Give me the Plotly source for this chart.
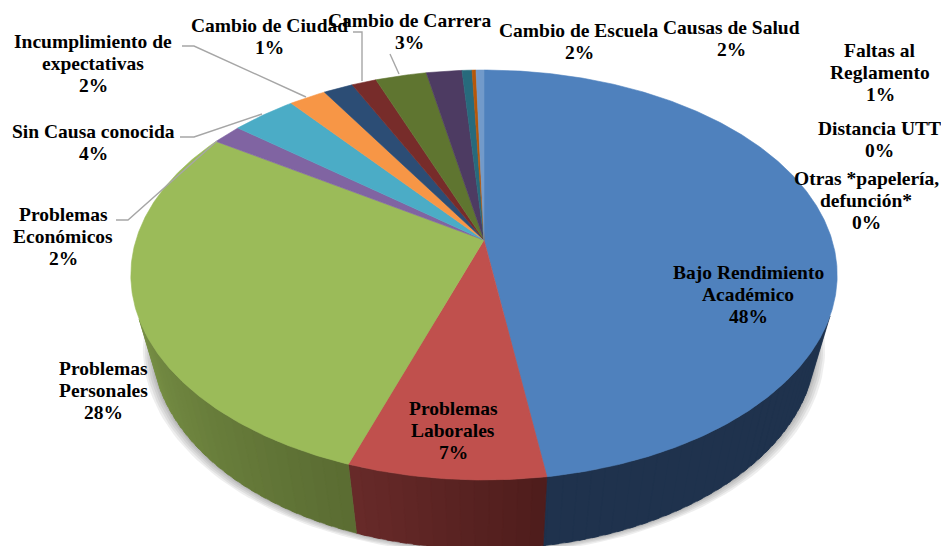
import numpy as np
import plotly.graph_objects as go

categories = ["Bajo Rendimiento<br>Académico", "Problemas<br>Laborales", "Problemas<br>Personales",
              "Problemas<br>Económicos", "Sin Causa conocida", "Incumplimiento de<br>expectativas",
              "Causas de Salud", "Cambio de Ciudad", "Cambio de Carrera", "Cambio de Escuela",
              "Faltas al<br>Reglamento", "Distancia UTT", "Otras *papelería,<br>defunción*"]
shares = [47.6, 7.7, 28.8, 1.6, 3.5, 2.0, 1.6, 1.34, 2.76, 1.92, 0.54, 0.21, 0.43]
percent_labels = ["48%", "7%", "28%", "2%", "4%", "2%", "2%", "1%", "3%", "2%", "1%", "0%", "0%"]
colors = ["#4f81bd", "#c0504d", "#9bbb59", "#8064a2", "#4bacc6", "#f79646", "#2c4d75",
          "#772c2a", "#5f7530", "#4d3b62", "#276a7c", "#b65708", "#729aca"]

# side wall colours at the start and end of the first three wedges
side_shades = {0: ((31, 50, 77), (31, 50, 77)),
               1: ((78, 28, 27), (104, 42, 41)),
               2: ((90, 108, 50), (118, 142, 68))}

label_x = [748, 453, 103, 63, 93, 93, 731, 269, 409, 579, 880, 879, 866]
label_y = [294, 430, 390, 236, 142, 63, 38, 36, 31, 41, 72, 139, 200]
LINE_HEIGHT = 22

leaders = [([182, 194, 306], [46, 46, 97]),
           ([353, 362, 362], [32, 32, 81]),
           ([390, 399], [54, 74]),
           ([180, 194, 262], [137, 137, 114]),
           ([116, 128, 217], [220, 220, 141])]

# perspective of the tilted disc, in pixels
CX, CY = 484, 240
RX, RY, TILT = 348, 199, 0.1707
DEPTH = 69
BOTTOM_SCALE = 0.94
SIDE_FROM, SIDE_TO = 111, 248


def rim(deg, scale=1.0, drop=0):
    t = np.radians(deg)
    w = 1 + TILT * np.cos(t)
    return CX + scale * RX * np.sin(t) / w, CY + drop - RY * np.cos(t) / w


edges = np.concatenate([[0], np.cumsum(shares)]) / sum(shares) * 360

fig = go.Figure()


def add_poly(x, y, color, width=0.6):
    fig.add_trace(go.Scatter(x=x, y=y, mode="lines", fill="toself", fillcolor=color,
                             line=dict(color=color, width=width), hoverinfo="skip", showlegend=False))


# soft shadow under the disc
for grow in [9, 7, 5, 3, 1.5]:
    t = np.linspace(SIDE_FROM - 20, SIDE_TO + 20, 120)
    xs, ys = rim(t, BOTTOM_SCALE + grow / RX, DEPTH + grow * 0.6)
    fig.add_trace(go.Scatter(x=np.r_[xs, xs[0]], y=np.r_[ys, ys[0]], mode="lines", fill="toself",
                             fillcolor="rgba(90,90,90,0.10)", line=dict(width=0),
                             hoverinfo="skip", showlegend=False))

# side wall as thin strips so the shading can change along it
for i, (c0, c1) in side_shades.items():
    start, end = max(edges[i], SIDE_FROM), min(edges[i + 1], SIDE_TO)
    stops = np.r_[np.arange(start, end, 2.0), end]
    for a, b in zip(stops[:-1], stops[1:]):
        f = ((a + b) / 2 - start) / (end - start)
        rgb = [round(c0[k] + (c1[k] - c0[k]) * f) for k in range(3)]
        # run each strip a little under the next one to hide the seams
        b2 = min(b + 1.0, end)
        x_top, y_top = rim(np.array([a, b2]))
        x_low, y_low = rim(np.array([b2, a]), BOTTOM_SCALE, DEPTH)
        add_poly(np.r_[x_top, x_low, x_top[0]], np.r_[y_top, y_low, y_top[0]], f"rgb({rgb[0]},{rgb[1]},{rgb[2]})")

# top face
for i, color in enumerate(colors):
    t = np.linspace(edges[i], edges[i + 1], max(3, int((edges[i + 1] - edges[i]) * 2)))
    xs, ys = rim(t)
    add_poly(np.r_[CX, xs, CX], np.r_[CY, ys, CY], color)

for xs, ys in leaders:
    fig.add_trace(go.Scatter(x=xs, y=ys, mode="lines", line=dict(color="#a6a6a6", width=1.4),
                             hoverinfo="skip", showlegend=False))

# each line its own annotation, plotly's <br> spacing is too wide at this size
for name, pct, x, y in zip(categories, percent_labels, label_x, label_y):
    lines = name.split("<br>") + [pct]
    top = y - (len(lines) - 1) * LINE_HEIGHT / 2
    for n, line in enumerate(lines):
        fig.add_annotation(x=x, y=top + n * LINE_HEIGHT, text=f"<b>{line}</b>", showarrow=False,
                           xanchor="center", yanchor="middle", align="center",
                           font=dict(family="Liberation Serif", size=19.5, color="black"))

fig.update_xaxes(range=[0, 941], visible=False)
fig.update_yaxes(range=[546, 0], visible=False)
fig.update_layout(width=941, height=546, margin=dict(l=0, r=0, t=0, b=0), autosize=False,
                  paper_bgcolor="white", plot_bgcolor="white", showlegend=False)

fig.write_html("out.html", config=dict(displayModeBar=False), post_script="document.body.style.margin='0';")
